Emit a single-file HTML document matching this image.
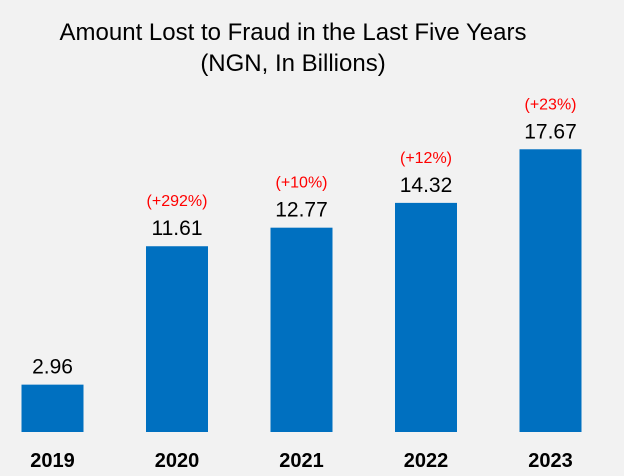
<!DOCTYPE html>
<html><head><meta charset="utf-8"><style>
html,body{margin:0;padding:0;background:#f2f2f2;}
svg{display:block;font-family:"Liberation Sans",Arial,sans-serif;}
</style></head><body>
<svg width="624" height="476">
<rect width="624" height="476" fill="#f2f2f2"/>
<text x="293" y="40" text-anchor="middle" font-size="24" fill="#000">Amount Lost to Fraud in the Last Five Years</text>
<text x="293" y="71" text-anchor="middle" font-size="24" fill="#000">(NGN, In Billions)</text>
<g id="bars"></g>
</svg>
<script>
const categories=["2019","2020","2021","2022","2023"];
const values=[2.96,11.61,12.77,14.32,17.67];
const changes=["","(+292%)","(+10%)","(+12%)","(+23%)"];
const svg=document.getElementById('bars');
const ns="http://www.w3.org/2000/svg";
const baseY=432, pxPerUnit=16.0, x0=21.5, step=124.5, bw=62;
function yScale(v){return baseY-v*pxPerUnit;}
function xScale(i){return x0+i*step;}
function mk(tag,attrs,txt){const e=document.createElementNS(ns,tag);for(const k in attrs)e.setAttribute(k,attrs[k]);if(txt!==undefined)e.textContent=txt;svg.appendChild(e);return e;}
categories.forEach((c,i)=>{
  const x=xScale(i), y=yScale(values[i]), cx=x+bw/2;
  const r=mk('rect',{x:x,y:y,width:bw,height:baseY-y,fill:'#0070c0'});
  
  
  const v=mk('text',{x:cx,y:y-11,'text-anchor':'middle','font-size':21,fill:'#000'},values[i].toFixed(2));
  
  
  if(changes[i]){
    const p=mk('text',{x:cx,y:y-40,'text-anchor':'middle','font-size':16,fill:'#ff0000'},changes[i]);
    
    
  }
  const t=mk('text',{x:cx,y:467,'text-anchor':'middle','font-size':20,'font-weight':'bold',fill:'#000'},c);
  
  
});
</script>
</body></html>
